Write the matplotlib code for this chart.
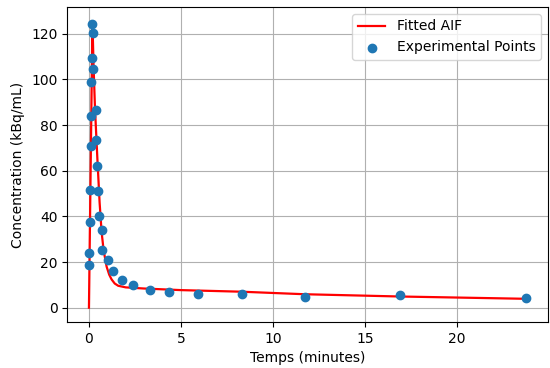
import matplotlib
matplotlib.use("Agg")
import matplotlib.pyplot as plt

# Experimental points
time_pts = [0.0, 0.0, 0.03, 0.03, 0.10, 0.10, 0.12, 0.15, 0.19, 0.22, 0.24, 0.36, 0.39,
            0.42, 0.48, 0.57, 0.69, 0.73, 1.05, 1.32, 1.80, 2.38, 3.33, 4.33, 5.91,
            8.30, 11.76, 16.90, 23.76]
conc_pts = [18.8, 24.0, 37.5, 51.7, 71.0, 84.1, 99.1, 109.4, 124.4, 120.3, 104.5, 86.7, 73.6,
            61.9, 51.0, 40.3, 34.2, 25.4, 20.7, 16.2, 12.0, 9.9, 7.6, 6.7, 6.1,
            5.8, 4.7, 5.4, 4.2]

# Fitted AIF curve
fit_t = [0.0, 0.19, 0.25, 0.33, 0.46, 0.58, 0.69, 0.80, 0.96, 1.10, 1.23, 1.40, 1.59,
         2.0, 3.0, 5.0, 8.3, 11.7, 16.9, 23.7]
fit_c = [0.0, 125.5, 106.0, 87.0, 65.0, 46.0, 33.0, 25.0, 18.0, 14.5, 12.4, 10.6, 9.6,
         8.9, 8.4, 7.7, 7.0, 5.9, 4.9, 3.9]

fig, ax = plt.subplots(figsize=(5.5, 3.68), dpi=100)
fig.subplots_adjust(left=0.122, right=0.996, bottom=0.125, top=0.981)

ax.plot(fit_t, fit_c, color="red", linewidth=1.6, label="Fitted AIF")
ax.scatter(time_pts, conc_pts, color="#1f77b4", label="Experimental Points", zorder=3)

ax.set_xlabel("Temps (minutes)")
ax.set_ylabel("Concentration (kBq/mL)")
ax.grid(True)
ax.legend(loc="upper right")

fig.savefig("out.png", dpi=100)
